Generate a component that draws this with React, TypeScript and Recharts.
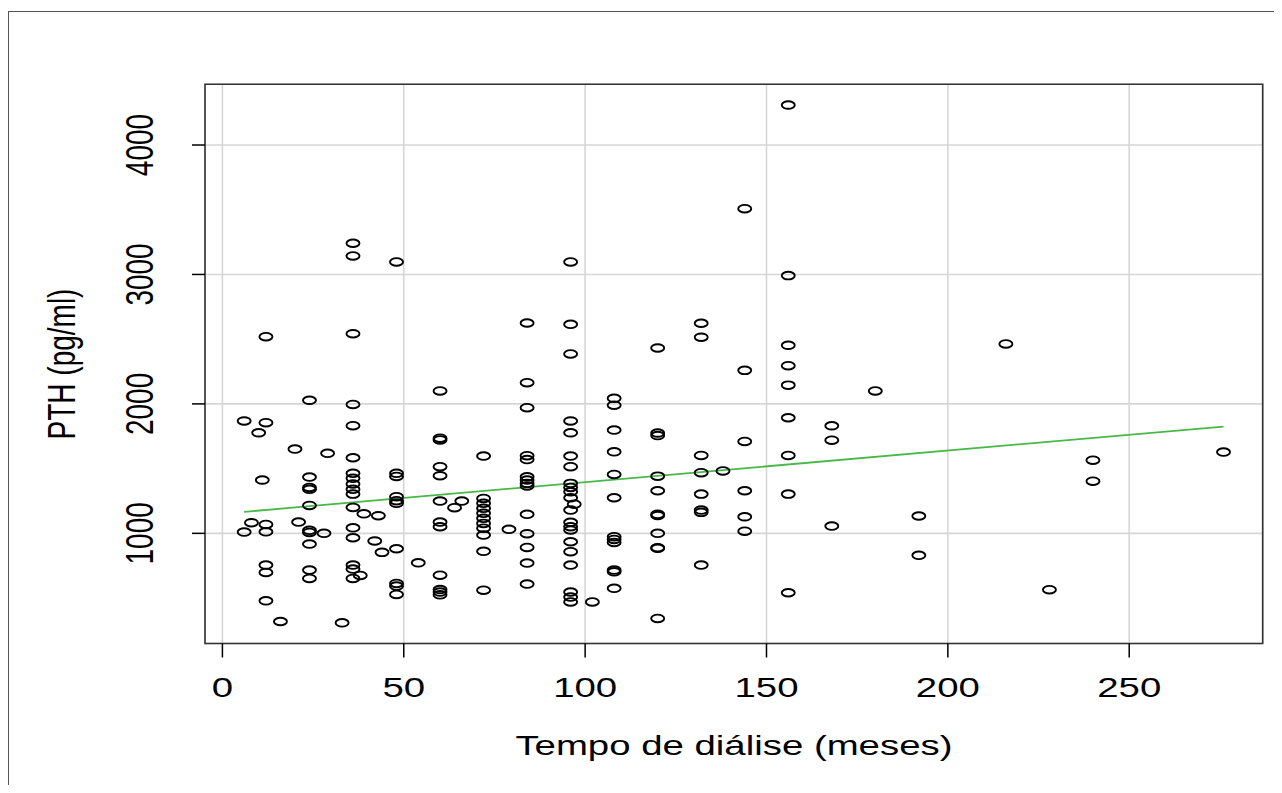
import React from "react";
import {
  ScatterChart,
  Scatter,
  XAxis,
  YAxis,
  CartesianGrid,
  ReferenceArea,
  ReferenceLine,
} from "recharts";

// ---- data ----
const columnMonths = [
  6, 8, 10, 11, 12, 16, 20, 21, 24, 28, 29, 33, 36, 38, 39, 42, 43, 44, 48, 54,
  60, 64, 66, 72, 79, 84, 96, 97, 102, 108, 120, 132, 138, 144, 156, 168, 180,
  192, 216, 228, 240, 276,
];
const columnPth: number[][] = [
  [1868, 1010],
  [1082],
  [1777],
  [1412],
  [2519, 1855, 1069, 1012, 755, 698, 479],
  [319],
  [1651],
  [1087],
  [2028, 1435, 1355, 1340, 1216, 1023, 1007, 917, 716, 652],
  [1000],
  [1618],
  [309],
  [3241, 3143, 2542, 1996, 1832, 1584, 1464, 1425, 1381, 1340, 1303, 1200, 1043, 966, 755, 724, 652],
  [675],
  [1151],
  [941],
  [1136],
  [853],
  [3097, 1464, 1440, 1283, 1252, 1232, 881, 613, 593, 528],
  [772],
  [2100, 1735, 1722, 1515, 1445, 1249, 1087, 1051, 677, 566, 546, 525],
  [1198],
  [1249],
  [1597, 1270, 1232, 1193, 1155, 1116, 1077, 1040, 987, 861, 561],
  [1031],
  [2625, 2164, 1971, 1600, 1570, 1437, 1412, 1386, 1366, 1147, 997, 891, 770, 608],
  [3097, 2615, 2386, 1868, 1777, 1597, 1515, 1386, 1355, 1321, 1275, 1180, 1085, 1051, 1026, 935, 858, 755, 546, 508, 470],
  [1225],
  [470],
  [2043, 1990, 1798, 1630, 1455, 1275, 974, 953, 930, 716, 703, 575],
  [2432, 1775, 1755, 1442, 1329, 1147, 1137, 1000, 889, 884, 343],
  [2623, 2515, 1602, 1469, 1303, 1180, 1162, 755],
  [1482],
  [3508, 2259, 1710, 1329, 1128, 1017],
  [4309, 2991, 2453, 2295, 2145, 1893, 1602, 1303, 541],
  [1831, 1720, 1056],
  [2100],
  [1134, 830],
  [2463],
  [565],
  [1565, 1403],
  [1628],
];
const fitMonths = [6, 276];
const fitPth = [1166, 1825];

const xTicks = [0, 50, 100, 150, 200, 250];
const yTicks = [1000, 2000, 3000, 4000];
const xDomain: [number, number] = [-4.8, 286.8];
const yDomain: [number, number] = [149, 4469];

const xTitle = "Tempo de diálise (meses)";
const yTitle = "PTH (pg/ml)";

const points = columnMonths.flatMap((m, i) =>
  columnPth[i].map((v) => ({ x: m, y: v }))
);

const FONT = "'Liberation Sans', Arial, Helvetica, sans-serif";
const STRETCH = 1.37;

const XTick = (props: any) => {
  const { x, y, payload } = props;
  return (
    <g transform={`translate(${x},${y + 39.5}) scale(${STRETCH},1)`}>
      <text x={0} y={0} textAnchor="middle" fontSize={28} fontFamily={FONT} fill="#000">
        {payload.value}
      </text>
    </g>
  );
};

const YTick = (props: any) => {
  const { x, y, payload } = props;
  return (
    <g transform={`translate(${x - 39},${y}) scale(${STRETCH},1) rotate(-90)`}>
      <text x={0} y={0} textAnchor="middle" fontSize={28} fontFamily={FONT} fill="#000">
        {payload.value}
      </text>
    </g>
  );
};

const OpenCircle = (props: any) => {
  const { cx, cy } = props;
  if (cx == null || cy == null) return null;
  return (
    <ellipse cx={cx} cy={cy} rx={6.5} ry={3.8} fill="none" stroke="#000" strokeWidth={1.9} />
  );
};

export default function App() {
  return (
    <div
      style={{
        position: "relative",
        width: 1274,
        height: 777,
        overflow: "hidden",
        background: "#fff",
      }}
    >
      <div
        style={{
          position: "absolute",
          left: 0,
          top: 3,
          width: 1400,
          height: 900,
          borderLeft: "1px solid #555",
          borderTop: "1px solid #555",
          boxSizing: "border-box",
        }}
      />
      <div style={{ position: "absolute", left: 0, top: 0 }}>
        <ScatterChart
          width={1274}
          height={777}
          margin={{ top: 76.3, right: 19.3, bottom: 140.5, left: 196 }}
        >
          <CartesianGrid stroke="#d6d6d6" strokeWidth={1.6} />
          <XAxis
            type="number"
            dataKey="x"
            domain={xDomain}
            ticks={xTicks}
            allowDataOverflow
            height={1}
            axisLine={false}
            tickSize={14}
            tickMargin={0}
            tickLine={{ stroke: "#000", strokeWidth: 1.5 }}
            tick={<XTick />}
            interval={0}
          />
          <YAxis
            type="number"
            dataKey="y"
            domain={yDomain}
            ticks={yTicks}
            allowDataOverflow
            width={1}
            axisLine={false}
            tickSize={13}
            tickMargin={0}
            tickLine={{ stroke: "#000", strokeWidth: 1.5 }}
            tick={<YTick />}
            interval={0}
          />
          <ReferenceArea
            x1={xDomain[0]}
            x2={xDomain[1]}
            y1={yDomain[0]}
            y2={yDomain[1]}
            fill="none"
            fillOpacity={0}
            stroke="#333"
            strokeWidth={1.6}
            ifOverflow="visible"
          />
          <Scatter data={points} shape={<OpenCircle />} isAnimationActive={false} />
          <ReferenceLine
            segment={[
              { x: fitMonths[0], y: fitPth[0] },
              { x: fitMonths[1], y: fitPth[1] },
            ]}
            stroke="#48b848"
            strokeWidth={1.8}
            ifOverflow="visible"
          />
        </ScatterChart>
      </div>
      <svg
        width={1274}
        height={777}
        style={{ position: "absolute", left: 0, top: 0, pointerEvents: "none" }}
      >
        <g transform={`translate(725.9,747) scale(${STRETCH},1)`}>
          <text x={0} y={0} textAnchor="middle" fontSize={28} fontFamily={FONT} fill="#000">
            {xTitle}
          </text>
        </g>
        <g transform={`translate(67,356) scale(${STRETCH},1) rotate(-90)`}>
          <text x={0} y={0} textAnchor="middle" fontSize={28} fontFamily={FONT} fill="#000">
            {yTitle}
          </text>
        </g>
      </svg>
    </div>
  );
}
